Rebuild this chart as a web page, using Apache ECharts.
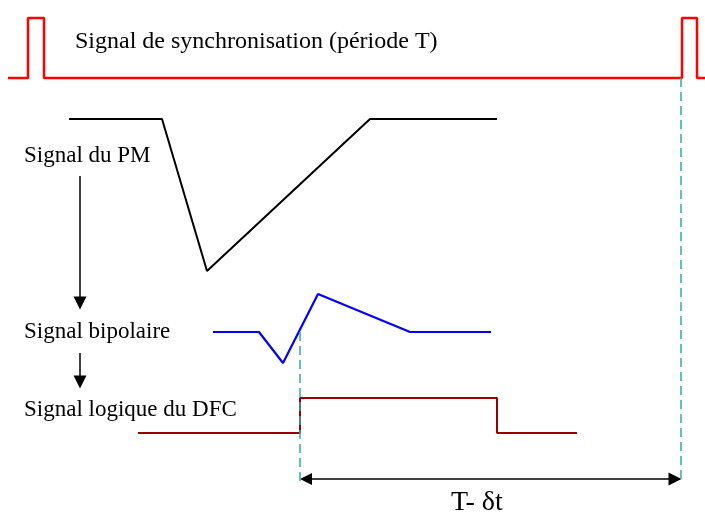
<!DOCTYPE html>
<html><head><meta charset="utf-8">
<script src="https://cdn.jsdelivr.net/npm/echarts@6/dist/echarts.min.js"></script>
<style>html,body{margin:0;padding:0;background:#fff}#c{width:705px;height:518px}</style>
</head><body><div id="c"></div>
<script>
// Sync signal (period T)
const syncX = [8, 28, 28, 44, 44, 682, 682, 697, 697, 705];
const syncY = [78, 78, 18, 18, 78, 78, 18, 18, 78, 78];
// PM signal
const pmX = [69, 162, 207, 370, 497];
const pmY = [119, 119, 271, 119, 119];
// Bipolar signal
const bipX = [213, 259, 283, 318, 410, 491];
const bipY = [332, 332, 363, 294, 332, 332];
// DFC logic signal
const logX = [138, 300, 300, 497, 497, 577];
const logY = [433, 433, 398, 398, 433, 433];
// Dashed markers
const dash1X = [300, 300], dash1Y = [332, 483];
const dash2X = [681, 681], dash2Y = [78, 483];
// Arrows [x1,y1,x2,y2] (symbol centres)
const arrowDown1 = [80, 176, 80, 303];
const arrowDown2 = [80, 353, 80, 382];
const arrowSpan = [306, 479, 675, 479];
// Labels
const labelText = ['Signal de synchronisation (période T)', 'Signal du PM', 'Signal bipolaire', 'Signal logique du DFC', 'T- δt'];
const labelX = [75, 24, 24, 24, 451];
const labelY = [42, 156, 332, 410, 503];
const labelSize = [24, 23, 23, 23, 28];

const zip = (xs, ys) => xs.map((x, i) => [x, ys[i]]);
const lineS = (xs, ys, color, extra) => Object.assign({
  type: 'line', data: zip(xs, ys), showSymbol: false, symbol: 'none', smooth: false,
  lineStyle: { color: color, width: 2 }, silent: true, animation: false
}, extra || {});
const arrowS = (a, both) => ({
  type: 'lines', coordinateSystem: 'cartesian2d', silent: true, animation: false,
  symbol: both ? ['triangle', 'triangle'] : ['none', 'triangle'], symbolSize: [12, 13],
  lineStyle: { color: '#000', width: 1.5, opacity: 1, curveness: 0 },
  itemStyle: { color: '#000' },
  data: [{ coords: [[a[0], a[1]], [a[2], a[3]]] }]
});

const chart = echarts.init(document.getElementById('c'), null, { renderer: 'canvas' });
chart.setOption({
  animation: false,
  grid: { left: 0, right: 0, top: 0, bottom: 0, containLabel: false },
  xAxis: { type: 'value', min: 0, max: 705, show: false },
  yAxis: { type: 'value', min: 0, max: 518, inverse: true, show: false },
  series: [
    lineS(syncX, syncY, '#ff0000', { lineStyle: { color: '#ff0000', width: 2.5 } }),
    lineS(pmX, pmY, '#000000'),
    lineS(bipX, bipY, '#0000ff', { lineStyle: { color: '#0000ff', width: 2.2 } }),
    lineS(logX, logY, '#990000'),
    lineS(dash1X, dash1Y, '#33aaaa', { lineStyle: { color: '#33aaaa', width: 1.5, type: [9, 5] } }),
    lineS(dash2X, dash2Y, '#33aaaa', { lineStyle: { color: '#33aaaa', width: 1.5, type: [9, 5] } }),
    arrowS(arrowDown1, false),
    arrowS(arrowDown2, false),
    arrowS(arrowSpan, true),
    {
      type: 'scatter', symbolSize: 0, silent: true, animation: false,
      data: labelText.map((t, i) => ({ value: [labelX[i], labelY[i]], name: t, label: { fontSize: labelSize[i] } })),
      label: {
        show: true, position: 'inside', align: 'left', verticalAlign: 'middle',
        formatter: p => p.name, color: '#000', textBorderWidth: 0, opacity: 1,
        fontFamily: 'Liberation Serif', fontSize: 23
      }
    }
  ]
});
</script></body></html>
